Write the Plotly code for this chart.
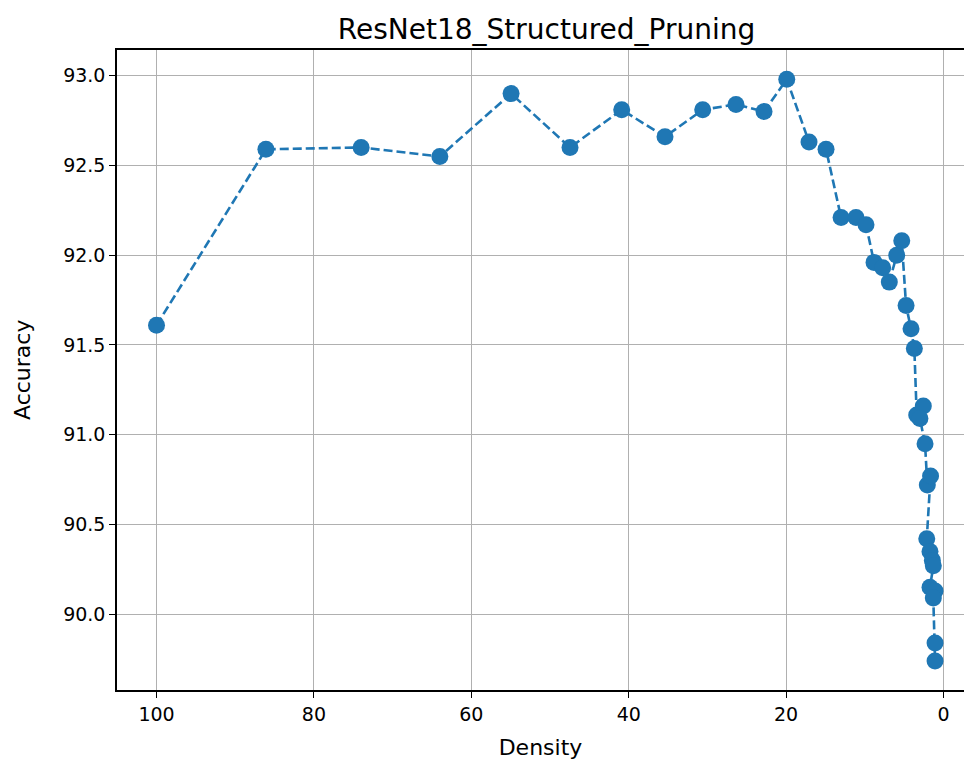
import plotly.graph_objects as go

# Fraction of weights kept (%) at each pruning step, and test accuracy after fine-tuning
density = [100.0, 86.1, 74.0, 64.0, 54.95, 47.46, 40.89, 35.39, 30.6, 26.37, 22.81,
           19.92, 17.09, 14.93, 13.02, 11.12, 9.85, 8.83, 7.73, 6.89, 5.95, 5.31,
           4.76, 4.13, 3.71, 3.41, 2.57, 3.0, 2.35, 2.06, 1.65, 2.13, 1.72, 1.42,
           1.30, 1.72, 1.08, 1.30, 1.08, 1.08]
accuracy = [91.61, 92.59, 92.60, 92.55, 92.90, 92.60, 92.81, 92.66, 92.81, 92.84, 92.80,
            92.98, 92.63, 92.59, 92.21, 92.21, 92.17, 91.96, 91.93, 91.85, 92.00, 92.08,
            91.72, 91.59, 91.48, 91.11, 91.16, 91.09, 90.95, 90.72, 90.77, 90.42, 90.35, 90.30,
            90.27, 90.15, 90.13, 90.09, 89.84, 89.74]

x_ticks = [100, 80, 60, 40, 20, 0]
y_ticks = [90.0, 90.5, 91.0, 91.5, 92.0, 92.5, 93.0]

blue = "#1f77b4"
font = "DejaVu Sans"

fig = go.Figure(
    go.Scatter(
        x=density,
        y=accuracy,
        mode="lines+markers",
        line=dict(color=blue, width=2.6, dash="9px,4px"),
        marker=dict(color=blue, size=17),
        showlegend=False,
    )
)

axis_common = dict(
    showgrid=True,
    gridcolor="#b0b0b0",
    gridwidth=1.3,
    zeroline=False,
    showline=True,
    linecolor="black",
    linewidth=1.5,
    ticks="outside",
    ticklen=6,
    tickwidth=1.3,
    tickcolor="black",
    tickfont=dict(family=font, size=19, color="black"),
)

fig.update_xaxes(
    **axis_common,
    mirror=True,
    range=[105.02, -2.6],
    tickvals=x_ticks,
    ticktext=[str(v) for v in x_ticks],
    title=dict(text="Density", font=dict(family=font, size=22, color="black"), standoff=16),
)
fig.update_yaxes(
    **axis_common,
    mirror=False,
    range=[89.578, 93.143],
    tickvals=y_ticks,
    ticktext=[f"{v:.1f}" for v in y_ticks],
)

# y-axis label placed close to the left edge of the figure
fig.add_annotation(
    text="Accuracy",
    xref="paper", yref="paper",
    x=-(117 - 22) / 847, y=0.5,
    xanchor="center", yanchor="middle",
    textangle=-90,
    showarrow=False,
    font=dict(family=font, size=22, color="black"),
)

fig.update_layout(
    width=964,
    height=765,
    margin=dict(l=117, r=0, t=50, b=75),
    paper_bgcolor="white",
    plot_bgcolor="white",
    title=dict(
        text="ResNet18_Structured_Pruning",
        font=dict(family=font, size=28, color="black"),
        x=(333 + 760) / 2 / 964,
        xanchor="center",
        y=1 - 29 / 765,
        yanchor="middle",
    ),
)

fig.write_html("out.html")
